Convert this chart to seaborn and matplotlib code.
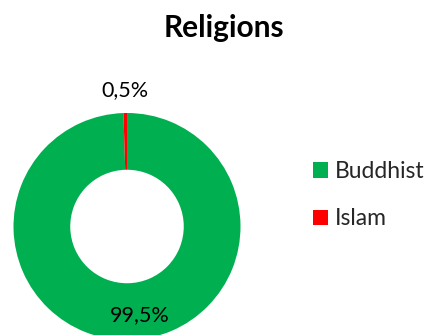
import numpy as np
import matplotlib
matplotlib.use("Agg")
import matplotlib.pyplot as plt
import seaborn as sns

# Religion shares (percent)
religions = ["Buddhist", "Islam"]
shares = [99.5, 0.5]
share_labels = ["99,5%", "0,5%"]
colors = ["#00B050", "#FF0000"]

sns.set_theme(style="white")
plt.rcParams["font.family"] = ["Lato", "DejaVu Sans"]

fig = plt.figure(figsize=(4.33, 3.35), dpi=100)
W, H = 433, 335

# Donut axes: centre at (127, 226.5) px from top-left, radius 113.5 px
cx, cy, r = 127, 226.5, 113.5
ax = fig.add_axes([(cx - r) / W, (H - cy - r) / H, 2 * r / W, 2 * r / H])

wedges, _ = ax.pie(
    shares,
    colors=colors,
    startangle=90,
    counterclock=False,
    radius=1.0,
    wedgeprops=dict(width=0.5, linewidth=0),
)
ax.set_xlim(-1, 1)
ax.set_ylim(-1, 1)
ax.set_axis_off()

# Percentage labels placed from each wedge's mid-angle
label_radius = {"Buddhist": 0.78, "Islam": 1.205}
label_shift = {"Buddhist": 0.10, "Islam": 0.0}
for w, name, txt in zip(wedges, religions, share_labels):
    ang = np.deg2rad((w.theta1 + w.theta2) / 2)
    rr = label_radius[name]
    ax.text(rr * np.cos(ang) + label_shift[name], rr * np.sin(ang), txt,
            ha="center", va="center", fontsize=15.5, color="#000000",
            clip_on=False)

fig.text(223.5 / W, 1 - 28 / H, "Religions", ha="center", va="center",
         fontsize=21.5, fontweight="bold", color="#000000")

fig.legend(
    wedges, religions,
    loc="upper left",
    bbox_to_anchor=(313 / W, 1 - 161 / H),
    frameon=False,
    borderaxespad=0,
    borderpad=0,
    fontsize=16.5,
    handlelength=0.66,
    handleheight=0.66,
    handletextpad=0.3,
    labelspacing=1.15,
)

fig.savefig("out.png", dpi=100)
